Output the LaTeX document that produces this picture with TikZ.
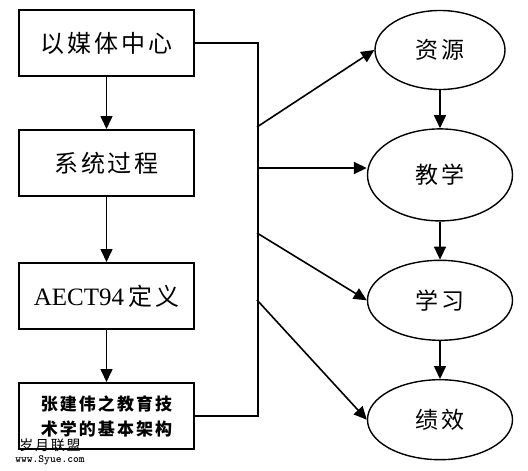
\documentclass[tikz,border=0pt]{standalone}
\usepackage{fontspec}
\setmainfont{Liberation Serif}
\newfontfamily\cjk{Noto Sans CJK SC}[LetterSpace=12]
\usetikzlibrary{arrows.meta, positioning, shapes.geometric}

\begin{document}
\begin{tikzpicture}[x=1pt, y=-1pt,
        box/.style = {draw, rectangle, line width=2pt, minimum width=175pt, minimum height=66pt, align=center, inner sep=2pt, font=\cjk\fontsize{24}{28}\selectfont},
        oval/.style = {draw, ellipse, line width=1.4pt, minimum width=145pt, minimum height=80pt, inner sep=0pt, font=\cjk\fontsize{23}{26}\selectfont},
        link/.style = {draw, line width=1.6pt},
        arrow/.style = {link, -{Triangle[length=13pt, width=12pt]}}
    ]
        \useasboundingbox (0,0) rectangle (528,471);

        % Left column
        \node (media) [box] at (106.5,43) {以媒体中心};
        \node (system) [box, below=52pt of media] {系统过程};
        \node (aect) [box, below=65pt of system] {{\rmfamily\fontsize{25}{28}\selectfont AECT94\,}定义};
        \node (frame) [box, below=52pt of aect, font=\cjk\bfseries\fontsize{17}{25}\selectfont] {张建伟之教育技\\术学的基本架构};

        % Right column
        \node (resource) [oval, minimum width=130pt, minimum height=79pt] at (440,50) {资源};
        \node (teach) [oval, below=38pt of resource, minimum height=92pt] {教学};
        \node (learn) [oval, below=38pt of teach] {学习};
        \node (perform) [oval, below=38pt of learn] {绩效};

        % Trunk
        \draw [link] (media.east) -- ++(63,0) |- (frame.east);
        \coordinate (b1) at (257,127);
        \coordinate (b2) at (257,168);
        \coordinate (b3) at (257,233);
        \coordinate (b4) at (257,300);

        % Arrows
        \draw [arrow] (media) -- (system);
        \draw [arrow] (system) -- (aect);
        \draw [arrow] (aect) -- (frame);

        \draw [arrow] (resource) -- (teach);
        \draw [arrow] (teach) -- (learn);
        \draw [arrow] (learn) -- (perform);

        \draw [arrow] (b1) -- (resource.west);
        \draw [arrow] (b2) -- (b2 -| teach.west);
        \draw [arrow] (b3) -- (learn.west);
        \draw [arrow] (b4) -- (perform.west);

        % Watermark
        \node (mark) at (50,445) {\cjk\fontsize{14}{15}\selectfont 岁月联盟};
        \node (site) at (50,460) {\ttfamily\bfseries\fontsize{11}{12}\selectfont www.Syue.com};
    \end{tikzpicture}
\end{document}
